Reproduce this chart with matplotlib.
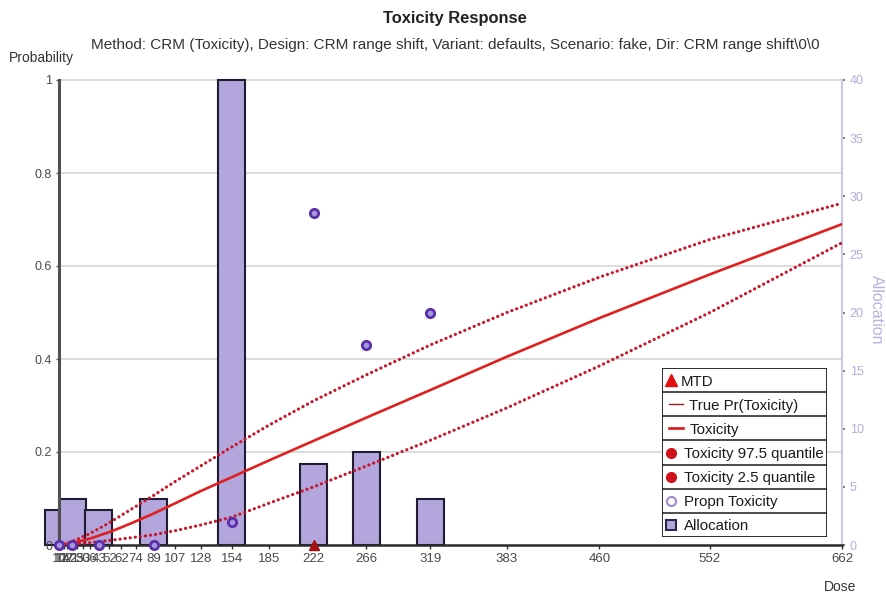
import matplotlib
matplotlib.use("Agg")
import matplotlib.pyplot as plt
from matplotlib.lines import Line2D
from matplotlib.patches import Rectangle

plt.rcParams['font.family'] = ['Liberation Sans', 'DejaVu Sans']

# Dose grid (tick labels on the x axis)
doses = [10, 12, 14, 17, 21, 25, 30, 36, 43, 52, 62, 74, 89, 107, 128,
         154, 185, 222, 266, 319, 383, 460, 552, 662]

# Posterior toxicity curve and its 2.5 / 97.5 % quantiles
tox_mean = [0.000, 0.001, 0.002, 0.003, 0.005, 0.007, 0.010, 0.014, 0.020,
            0.028, 0.038, 0.051, 0.068, 0.090, 0.116, 0.146, 0.182, 0.224,
            0.274, 0.333, 0.405, 0.488, 0.582, 0.690]
tox_q975 = [0.000, 0.001, 0.002, 0.004, 0.008, 0.012, 0.018, 0.025, 0.035,
            0.048, 0.064, 0.083, 0.107, 0.137, 0.170, 0.211, 0.258, 0.310,
            0.366, 0.430, 0.500, 0.576, 0.657, 0.735]
tox_q025 = [0.000, 0.000, 0.001, 0.001, 0.002, 0.003, 0.004, 0.005, 0.007,
            0.010, 0.013, 0.017, 0.022, 0.031, 0.043, 0.060, 0.090, 0.125,
            0.170, 0.225, 0.295, 0.385, 0.500, 0.650]

# Doses that were allocated, with subject counts and observed toxicity rate
alloc_doses = [10, 21, 43, 89, 154, 222, 266, 319]
alloc_counts = [3, 4, 3, 4, 40, 7, 8, 4]
propn_tox = [0.0, 0.0, 0.0, 0.0, 0.05, 0.714, 0.43, 0.5]

mtd_dose = [222]
mtd_prob = [0.0]

prob_ticks = [0, 0.2, 0.4, 0.6, 0.8, 1]
prob_labels = ['0', '0.2', '0.4', '0.6', '0.8', '1']
alloc_ticks = [0, 5, 10, 15, 20, 25, 30, 35, 40]

W, H = 886, 594
fig = plt.figure(figsize=(W / 100, H / 100), dpi=100)
L, R, T, B = 59, 842, 80, 545
ax = fig.add_axes([L / W, 1 - B / H, (R - L) / W, (B - T) / H])
ax2 = ax.twinx()
ax.set_zorder(ax2.get_zorder() + 1)
ax.patch.set_visible(False)

ax.set_xlim(doses[0], doses[-1])
ax.set_ylim(0, 1)
ax2.set_ylim(0, 40)

# horizontal grid in probability units, behind the bars
for p in prob_ticks[1:]:
    ax2.plot([0, 1], [p, p], transform=ax.get_yaxis_transform(),
             color='#d6d6d6', lw=1.2, zorder=0.5, clip_on=False)

# allocation bars
ax2.bar(alloc_doses, alloc_counts, width=22.5, color='#b3a6dc',
        edgecolor='#1e1b33', linewidth=1.5, zorder=2, clip_on=False)

dot = (0, (0.05, 1.55))
ax.plot(doses, tox_q975, color='#c8182c', lw=2.3, linestyle=dot,
        dash_capstyle='round', zorder=3)
ax.plot(doses, tox_q025, color='#c8182c', lw=2.3, linestyle=dot,
        dash_capstyle='round', zorder=3)
ax.plot(doses, tox_mean, color='#e0201f', lw=1.9, zorder=4)
ax.plot(alloc_doses, propn_tox, linestyle='none', marker='o', ms=6,
        mfc='#a897dc', mec='#5a2fa8', mew=2.0, zorder=5, clip_on=False)
ax.plot(mtd_dose, mtd_prob, linestyle='none', marker='^', ms=7,
        color='#a50f0f', zorder=6, clip_on=False)

# spines
for s in ['top', 'right']:
    ax.spines[s].set_visible(False)
ax.spines['left'].set_color('#505050')
ax.spines['left'].set_linewidth(2.2)
ax.spines['bottom'].set_color('#2a2a2a')
ax.spines['bottom'].set_linewidth(1.8)
for s in ['top', 'left', 'bottom']:
    ax2.spines[s].set_visible(False)
ax2.spines['right'].set_color('#cbc6ec')
ax2.spines['right'].set_linewidth(1.5)

ax.set_xticks(doses)
ax.set_xticklabels([str(d) for d in doses])
ax.tick_params(axis='x', length=3, width=1, color='#333333', pad=3,
               labelsize=9.5, labelcolor='#4a4a4a')
ax.set_yticks(prob_ticks)
ax.set_yticklabels(prob_labels)
ax.tick_params(axis='y', length=2, width=1, color='#555555', pad=3,
               labelsize=9, labelcolor='#4a4a4a')
ax2.set_yticks(alloc_ticks)
ax2.tick_params(axis='y', length=2.5, width=1.2, color='#6a6a6a', pad=3,
                labelsize=9, labelcolor='#b3acdd')


def ftext(x, y, s, **kw):
    fig.text(x / W, 1 - y / H, s, **kw)


ftext(455, 18, 'Toxicity Response', ha='center', va='center',
      fontsize=11.9, fontweight='bold', color='#222222')
ftext(455, 45, 'Method: CRM (Toxicity), Design: CRM range shift, Variant: '
      'defaults, Scenario: fake, Dir: CRM range shift\\0\\0',
      ha='center', va='center', fontsize=11, color='#333333')
ftext(9, 58, 'Probability', ha='left', va='center', fontsize=10,
      color='#333333')
ftext(840, 587, 'Dose', ha='center', va='center', fontsize=10,
      color='#333333')
ftext(876, 310, 'Allocation', ha='center', va='center', fontsize=11.5,
      rotation=270, color='#b8b2e0')

# boxed legend, one bordered row per entry
lx, ly, lw_, lh = 662, 368, 165, 169
leg = fig.add_axes([lx / W, 1 - (ly + lh) / H, lw_ / W, lh / H])
leg.set_zorder(10)
leg.set_xlim(0, lw_)
leg.set_ylim(lh, 0)
leg.axis('off')
leg.add_patch(Rectangle((0, 0), lw_, lh, facecolor='white',
                        edgecolor='#1a1a1a', lw=1.3))
labels = ['MTD', 'True Pr(Toxicity)', 'Toxicity', 'Toxicity 97.5 quantile',
          'Toxicity 2.5 quantile', 'Propn Toxicity', 'Allocation']
rh = lh / len(labels)
for i, lab in enumerate(labels):
    yc = (i + 0.5) * rh
    if i > 0:
        leg.plot([0, lw_], [i * rh, i * rh], color='#1a1a1a', lw=1.1)
    tx = 22
    if lab == 'MTD':
        leg.plot([8.5], [yc], marker='^', ms=8, color='#e01010', ls='none')
        tx = 19
    elif lab == 'True Pr(Toxicity)':
        leg.add_line(Line2D([7, 21], [yc, yc], color='#9b1c1c', lw=1.0))
        tx = 27
    elif lab == 'Toxicity':
        leg.add_line(Line2D([7, 21], [yc, yc], color='#d41a1a', lw=1.9))
        tx = 28
    elif 'quantile' in lab:
        leg.plot([8.5], [yc], marker='o', ms=7, color='#d0101a', ls='none')
    elif lab == 'Propn Toxicity':
        leg.plot([8.5], [yc], marker='o', ms=6.5, mfc='white', mec='#9d8ad0',
                 mew=1.5, ls='none')
    else:
        leg.plot([8.5], [yc], marker='s', ms=6.5, mfc='#b3a6dc',
                 mec='#2a2750', mew=1.5, ls='none')
    leg.text(tx, yc, lab, ha='left', va='center_baseline', fontsize=10.8,
             color='#1a1a1a')

fig.savefig('out.png', dpi=100)
